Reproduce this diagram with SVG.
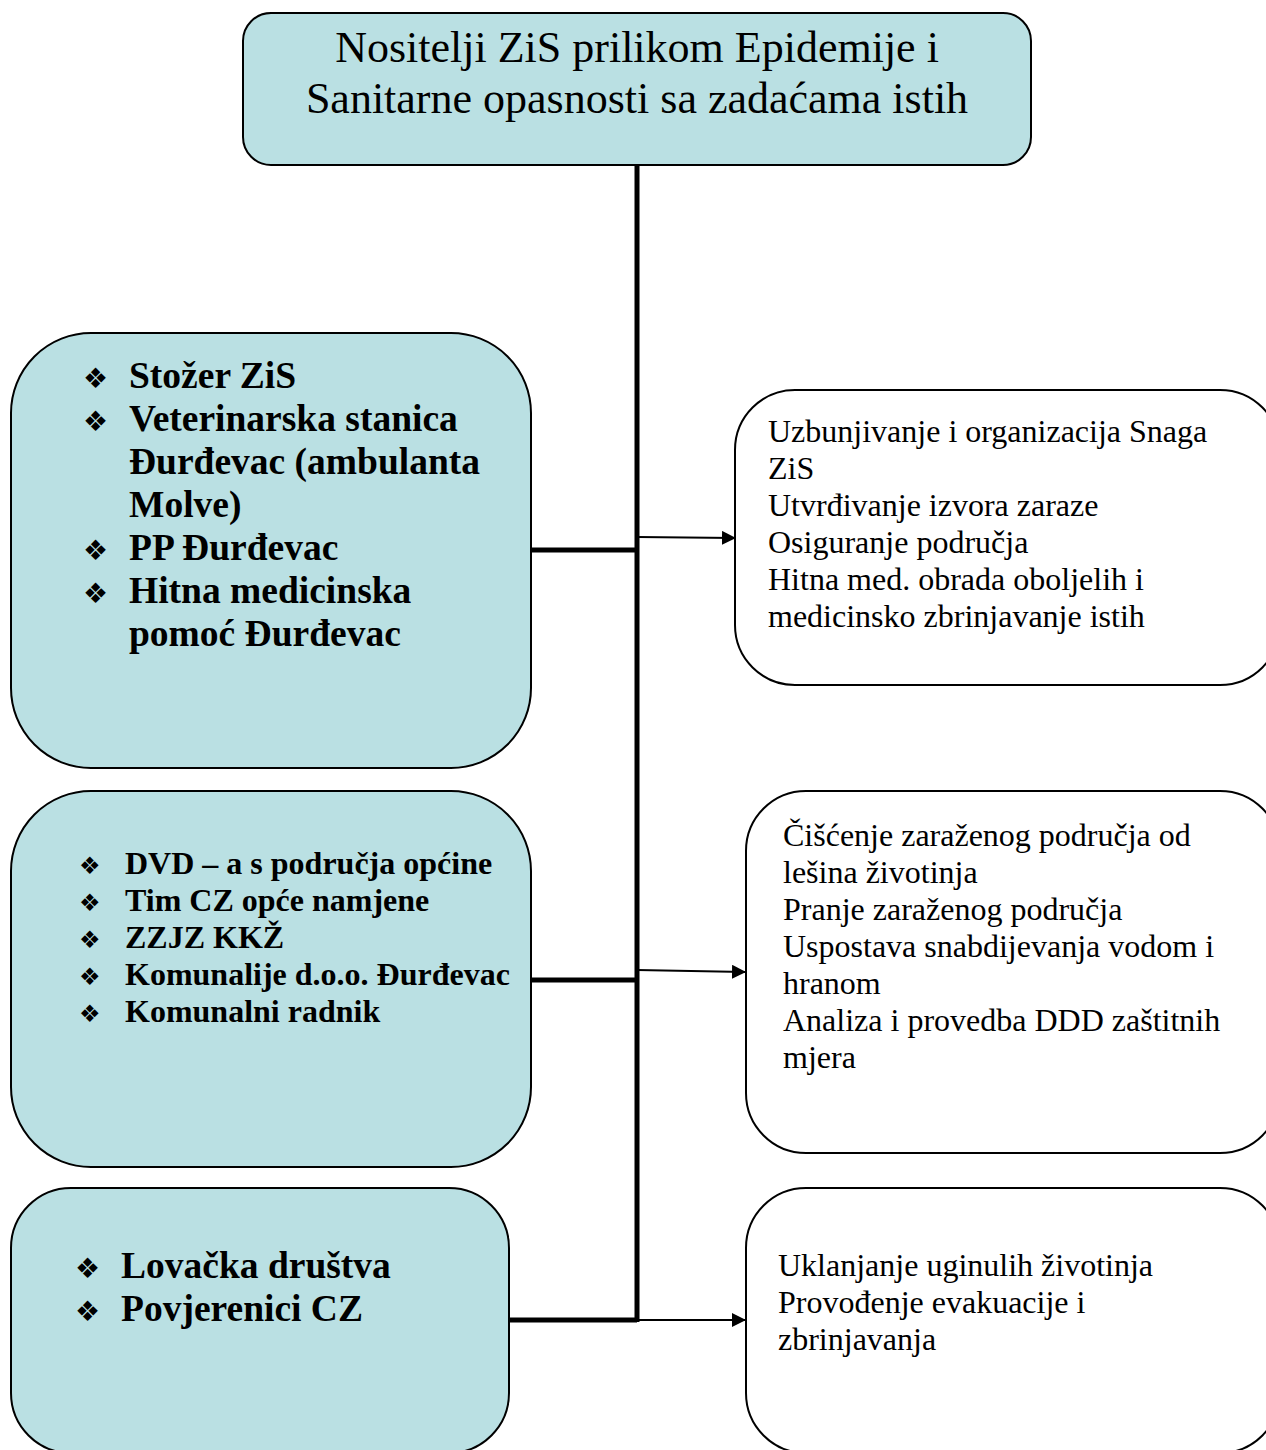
<svg xmlns="http://www.w3.org/2000/svg" width="1266" height="1450" viewBox="0 0 1266 1450">
<defs>
<style>
.blue{fill:#bae0e3;stroke:#000;stroke-width:2}
.white{fill:#fff;stroke:#000;stroke-width:2}
.t{font-family:"Liberation Serif","Times New Roman",serif;fill:#000}
.title{font-size:44px}
.task{font-size:32px}
.b1{font-size:37.5px;font-weight:bold}
.b2{font-size:32px;font-weight:bold}
.bul{font-family:"DejaVu Sans",sans-serif;font-weight:normal}
.thick{stroke:#000;stroke-width:5;fill:none}
.thin{stroke:#000;stroke-width:2;fill:none}
</style>
<marker id="arr" markerWidth="14" markerHeight="14" refX="13" refY="7" orient="auto" markerUnits="userSpaceOnUse">
<path d="M0,0 L14,7 L0,14 Z" fill="#000"/>
</marker>
</defs>
<g id="connectors">
<path class="thick" d="M637,165 V1322"/>
<path class="thick" d="M531,550 H637"/>
<path class="thick" d="M531,980 H637"/>
<path class="thick" d="M509,1320 H637"/>
<path class="thin" d="M637,537 L735,538" marker-end="url(#arr)"/>
<path class="thin" d="M637,970 L745,972" marker-end="url(#arr)"/>
<path class="thin" d="M637,1320 L745,1320" marker-end="url(#arr)"/>
</g>
<g id="title">
<rect class="blue" x="243" y="13" width="788" height="152" rx="28"/>
<text class="t title" text-anchor="middle"><tspan x="637" y="62">Nositelji ZiS prilikom Epidemije i</tspan><tspan x="637" y="113">Sanitarne opasnosti sa zadaćama istih</tspan></text>
</g>
<g id="group1">
<rect class="blue" x="11" y="333" width="520" height="435" rx="80"/>
<text class="t b1">
<tspan x="83" y="388"><tspan class="bul" font-size="28">❖</tspan></tspan><tspan x="129" y="388">Stožer ZiS</tspan>
<tspan x="83" y="431"><tspan class="bul" font-size="28">❖</tspan></tspan><tspan x="129" y="431">Veterinarska stanica</tspan>
<tspan x="129" y="474">Đurđevac (ambulanta</tspan>
<tspan x="129" y="517">Molve)</tspan>
<tspan x="83" y="560"><tspan class="bul" font-size="28">❖</tspan></tspan><tspan x="129" y="560">PP Đurđevac</tspan>
<tspan x="83" y="603"><tspan class="bul" font-size="28">❖</tspan></tspan><tspan x="129" y="603">Hitna medicinska</tspan>
<tspan x="129" y="646">pomoć Đurđevac</tspan>
</text>
</g>
<g id="tasks1">
<rect class="white" x="735" y="390" width="545" height="295" rx="60"/>
<text class="t task">
<tspan x="768" y="442">Uzbunjivanje i organizacija Snaga</tspan>
<tspan x="768" y="479">ZiS</tspan>
<tspan x="768" y="516">Utvrđivanje izvora zaraze</tspan>
<tspan x="768" y="553">Osiguranje područja</tspan>
<tspan x="768" y="590">Hitna med. obrada oboljelih i</tspan>
<tspan x="768" y="627">medicinsko zbrinjavanje istih</tspan>
</text>
</g>
<g id="group2">
<rect class="blue" x="11" y="791" width="520" height="376" rx="80"/>
<text class="t b2">
<tspan x="79" y="874"><tspan class="bul" font-size="24">❖</tspan></tspan><tspan x="125" y="874">DVD – a s područja općine</tspan>
<tspan x="79" y="911"><tspan class="bul" font-size="24">❖</tspan></tspan><tspan x="125" y="911">Tim CZ opće namjene</tspan>
<tspan x="79" y="948"><tspan class="bul" font-size="24">❖</tspan></tspan><tspan x="125" y="948">ZZJZ KKŽ</tspan>
<tspan x="79" y="985"><tspan class="bul" font-size="24">❖</tspan></tspan><tspan x="125" y="985">Komunalije d.o.o. Đurđevac</tspan>
<tspan x="79" y="1022"><tspan class="bul" font-size="24">❖</tspan></tspan><tspan x="125" y="1022">Komunalni radnik</tspan>
</text>
</g>
<g id="tasks2">
<rect class="white" x="746" y="791" width="534" height="362" rx="60"/>
<text class="t task">
<tspan x="783" y="846">Čišćenje zaraženog područja od</tspan>
<tspan x="783" y="883">lešina životinja</tspan>
<tspan x="783" y="920">Pranje zaraženog područja</tspan>
<tspan x="783" y="957">Uspostava snabdijevanja vodom i</tspan>
<tspan x="783" y="994">hranom</tspan>
<tspan x="783" y="1031">Analiza i provedba DDD zaštitnih</tspan>
<tspan x="783" y="1068">mjera</tspan>
</text>
</g>
<g id="group3">
<rect class="blue" x="11" y="1188" width="498" height="265" rx="60"/>
<text class="t b1">
<tspan x="75" y="1278"><tspan class="bul" font-size="28">❖</tspan></tspan><tspan x="121" y="1278">Lovačka društva</tspan>
<tspan x="75" y="1321"><tspan class="bul" font-size="28">❖</tspan></tspan><tspan x="121" y="1321">Povjerenici CZ</tspan>
</text>
</g>
<g id="tasks3">
<rect class="white" x="746" y="1188" width="534" height="265" rx="60"/>
<text class="t task">
<tspan x="778" y="1276">Uklanjanje uginulih životinja</tspan>
<tspan x="778" y="1313">Provođenje evakuacije i</tspan>
<tspan x="778" y="1350">zbrinjavanja</tspan>
</text>
</g>
</svg>
